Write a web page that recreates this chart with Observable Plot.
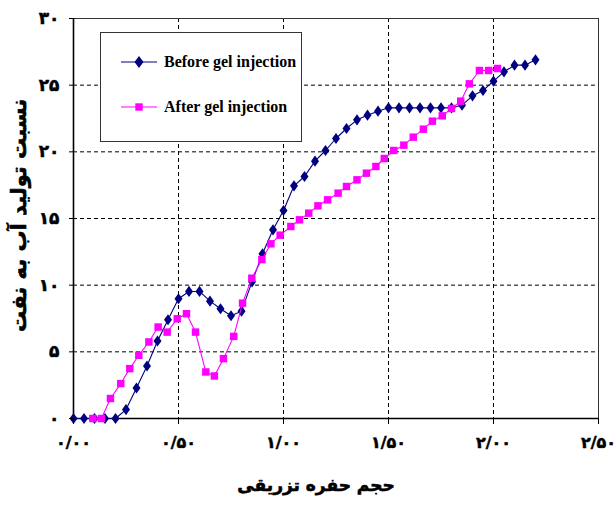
<!DOCTYPE html>
<html>
<head>
<meta charset="utf-8">
<script src="https://cdn.jsdelivr.net/npm/d3@7"></script>
<script src="https://cdn.jsdelivr.net/npm/@observablehq/plot@0.6"></script>
<style>
  html, body { margin: 0; padding: 0; background: #fff; }
  #wrap { position: relative; width: 615px; height: 507px; }
  #legend { position: absolute; left: 100px; top: 32px; width: 202px; height: 110px;
            border: 1px solid #333; background: #fff; box-sizing: border-box; }
  .li { position: absolute; left: 20px; height: 20px; display: flex; align-items: center; }
  .li span { font-family: "Liberation Serif", "Times New Roman", serif; font-weight: bold;
             font-size: 16px; color: #000; margin-left: 7px; white-space: nowrap; }
</style>
</head>
<body>
<div id="wrap"><div id="legend"></div></div>
<script>
const seriesNames = ["Before gel injection", "After gel injection"];
const seriesColors = ["#000080", "#FF00FF"];

const beforeX = [0, 0.05, 0.10, 0.15, 0.20, 0.25, 0.30, 0.35, 0.40, 0.45, 0.50, 0.55, 0.60, 0.65, 0.70,
  0.75, 0.80, 0.85, 0.90, 0.95, 1.00, 1.05, 1.10, 1.15, 1.20, 1.25, 1.30, 1.35, 1.40, 1.45, 1.50,
  1.55, 1.60, 1.65, 1.70, 1.75, 1.80, 1.85, 1.90, 1.95, 2.00, 2.05, 2.10, 2.15, 2.20];
const beforeY = [0, 0, 0, 0, 0, 0.67, 2.29, 3.94, 5.81, 7.41, 8.98, 9.53, 9.53, 8.80, 8.23,
  7.71, 8.05, 10.25, 12.35, 14.15, 15.6, 17.45, 18.15, 19.3, 20.1, 21.0, 21.75, 22.4, 22.75, 23.05, 23.3,
  23.3, 23.3, 23.3, 23.3, 23.3, 23.3, 23.5, 24.2, 24.6, 25.3, 26.0, 26.5, 26.5, 26.9];

const afterX = [0.092, 0.133, 0.176, 0.225, 0.268, 0.311, 0.359, 0.403, 0.446, 0.494, 0.538, 0.581,
  0.63, 0.671, 0.714, 0.763, 0.805, 0.849, 0.897, 0.94, 0.984, 1.035, 1.076, 1.12, 1.164, 1.21,
  1.26, 1.30, 1.35, 1.395, 1.44, 1.48, 1.525, 1.573, 1.618, 1.666, 1.709, 1.756, 1.80, 1.844,
  1.885, 1.933, 1.977, 2.019];
const afterY = [0, 0, 1.5, 2.62, 3.74, 4.74, 5.74, 6.86, 6.48, 7.48, 7.86, 6.48,
  3.49, 3.19, 4.49, 6.16, 8.65, 10.52, 11.92, 13.1, 13.75, 14.4, 14.9, 15.4, 15.95, 16.4,
  16.9, 17.4, 17.9, 18.4, 18.9, 19.5, 20.1, 20.5, 21.1, 21.7, 22.3, 22.7, 23.25, 23.8,
  25.1, 26.1, 26.1, 26.25];

const xTicks = [0, 0.5, 1.0, 1.5, 2.0, 2.5];
const xTickLabels = ["۰/۰۰", "۰/۵۰", "۱/۰۰", "۱/۵۰", "۲/۰۰", "۲/۵۰"];
const yTicks = [0, 5, 10, 15, 20, 25, 30];
const yTickLabels = ["۰", "۵", "۱۰", "۱۵", "۲۰", "۲۵", "۳۰"];
const xLabel = "حجم حفره تزریقی";
const yLabel = "نسبت تولید آب به نفت";

const before = beforeX.map((x, i) => ({x, y: beforeY[i]}));
const after = afterX.map((x, i) => ({x, y: afterY[i]}));

const diamond = {
  draw(ctx, size) {
    const h = Math.sqrt(size) * 0.85, w = h * 0.72;
    ctx.moveTo(0, -h); ctx.lineTo(w, 0); ctx.lineTo(0, h); ctx.lineTo(-w, 0); ctx.closePath();
  }
};
const square = {
  draw(ctx, size) {
    const s = Math.sqrt(size) / 2;
    ctx.rect(-s, -s, 2 * s, 2 * s);
  }
};

const persianFont = "DejaVu Sans";

const chart = Plot.plot({
  width: 615, height: 507,
  marginLeft: 73, marginRight: 17, marginTop: 18, marginBottom: 89,
  style: {background: "#fff", overflow: "visible"},
  x: {domain: [0, 2.5]},
  y: {domain: [0, 30]},
  marks: [
    Plot.gridX(xTicks.slice(1, -1), {stroke: "#000", strokeOpacity: 1, strokeDasharray: "4,3"}),
    Plot.gridY(yTicks.slice(1, -1), {stroke: "#000", strokeOpacity: 1, strokeDasharray: "4,3"}),
    Plot.frame({stroke: "#333", strokeWidth: 1}),
    Plot.ruleX([0], {stroke: "#000", strokeWidth: 1.6}),
    Plot.ruleY([0], {stroke: "#000", strokeWidth: 1.6}),
    Plot.line(before, {x: "x", y: "y", stroke: seriesColors[0], strokeWidth: 1.1}),
    Plot.dot(before, {x: "x", y: "y", symbol: diamond, r: 3.7, fill: seriesColors[0], stroke: "none"}),
    Plot.line(after, {x: "x", y: "y", stroke: seriesColors[1], strokeWidth: 1.1}),
    Plot.dot(after, {x: "x", y: "y", symbol: square, r: 4.2, fill: seriesColors[1], stroke: "none"}),
    Plot.axisX(xTicks, {tickFormat: (d, i) => xTickLabels[i], tickSize: 6, tickPadding: 12,
      fontSize: 16, fontWeight: "bold", fontFamily: persianFont, label: null, stroke: "#000"}),
    Plot.axisY(yTicks, {tickFormat: (d, i) => yTickLabels[i], tickSize: 4, tickPadding: 10,
      fontSize: 17, fontWeight: "bold", fontFamily: persianFont, label: null, stroke: "#000"}),
    Plot.text([xLabel], {frameAnchor: "bottom", dy: 72, dx: -20, textAnchor: "middle", fontSize: 17,
      fontWeight: "bold", fontFamily: persianFont, fill: "#000", stroke: "#000", strokeWidth: 0.6}),
    Plot.text([yLabel], {frameAnchor: "left", dx: -54, dy: -3, textAnchor: "middle", rotate: -90, fontSize: 21,
      fontWeight: "bold", fontFamily: persianFont, fill: "#000", stroke: "#000", strokeWidth: 0.6})
  ]
});
document.getElementById("wrap").prepend(chart);
// thicken Persian tick labels a little (heavier face in reference)
chart.querySelectorAll('[aria-label="x-axis tick label"] text, [aria-label="y-axis tick label"] text')
  .forEach(t => { t.setAttribute("stroke", "#000"); t.setAttribute("stroke-width", "0.5"); });

// legend
const legend = document.getElementById("legend");
const glyphs = [
  '<polygon points="18,-6 22.5,0 18,6 13.5,0" />',
  '<rect x="14.3" y="-3.7" width="7.4" height="7.4" />'
];
seriesNames.forEach((name, i) => {
  const item = document.createElement("div");
  item.className = "li";
  item.style.top = (i === 0 ? 19 : 64) + "px";
  item.innerHTML = `<svg width="36" height="20" viewBox="0 -10 36 20" style="overflow:visible">
      <line x1="0" x2="36" y1="0" y2="0" stroke="${seriesColors[i]}" stroke-width="1.2"/>
      <g fill="${seriesColors[i]}">${glyphs[i]}</g></svg><span>${name}</span>`;
  legend.appendChild(item);
});
</script>
</body>
</html>
